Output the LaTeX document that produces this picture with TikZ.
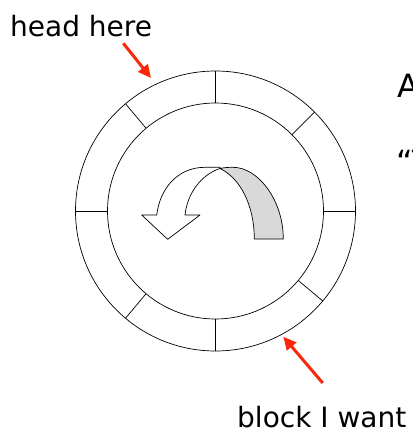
\documentclass[tikz,border=0pt]{standalone}
\usepackage{fontspec}
\setmainfont{DejaVu Sans}
\usetikzlibrary{arrows.meta,calc}
\definecolor{arrred}{RGB}{250,40,10}
\definecolor{ribbongrey}{RGB}{217,217,217}
\begin{document}
\begin{tikzpicture}[x=1pt,y=-1pt,
  ring/.style={draw=black,line width=0.7pt},
  lbl/.style={inner sep=0pt,anchor=base west,font=\fontsize{28}{34}\selectfont},
  biglbl/.style={inner sep=0pt,anchor=base west,font=\fontsize{32}{38}\selectfont},
  redarrow/.style={draw=arrred,line width=3pt,-{Triangle[length=13pt,width=12pt]}},
  ribbon/.style={draw=black,line width=0.7pt,line join=round}]
\useasboundingbox (0,0) rectangle (413,432);
\clip (0,0) rectangle (413,432);
% disk rings
\coordinate (c) at (215.5,211);
\draw[ring] (c) circle[radius=140];
\draw[ring] (c) circle[radius=108];
\foreach \a in {0,45,90,130,180,230,270,320}
  \draw[ring] ($(c)+(-\a:108)$) -- ($(c)+(-\a:140)$);
% curved ribbon arrow
\draw[ribbon,fill=white]
  (185,215) -- (200,215) -- (167.7,239.3) -- (141.7,215) -- (156.7,215)
  .. controls (160,188) and (178,167.3) .. (205,167.3) -- (220,167.3) -- (220,168.5)
  .. controls (200,175) and (187,195) .. (185,215) -- cycle;
\draw[ribbon,fill=ribbongrey]
  (220,168.5) .. controls (224,167.6) and (228,167.3) .. (233,167.3)
  .. controls (258,167.3) and (283.3,200) .. (283.3,239) -- (254.3,239)
  .. controls (254.3,205) and (240,178) .. (220,168.5) -- cycle;
% red pointers
\coordinate (hs) at (123.3,43.3);
\coordinate (ht) at (151,78);
\draw[redarrow] (hs) -- (ht);
\coordinate (bs) at (322.7,383);
\coordinate (bt) at (283.3,336.7);
\draw[redarrow] (bs) -- (bt);
% labels
\node[lbl] (head) at (10,36) {head here};
\node[lbl] (block) at (237,427) {block I want};
\node[biglbl] (a) at (397,97) {A};
\node[biglbl] (q) at (396,173) {“T};
\end{tikzpicture}
\end{document}
